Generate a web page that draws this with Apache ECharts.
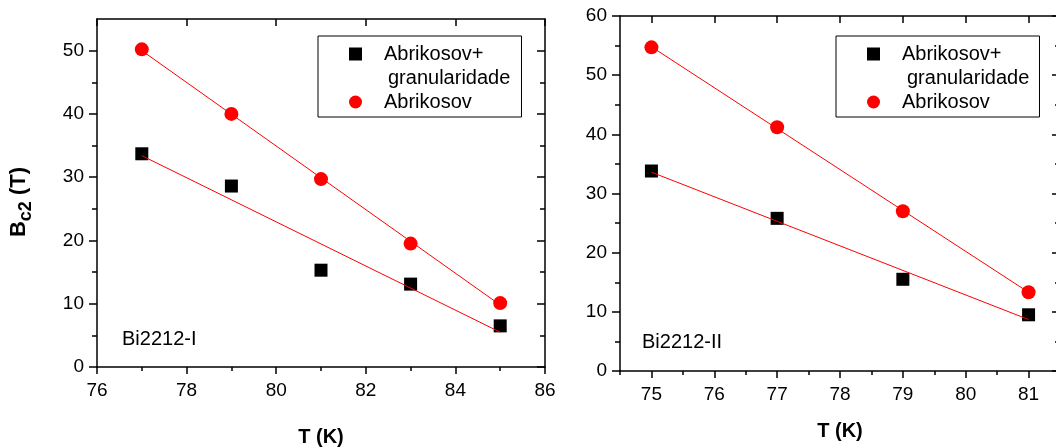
<!DOCTYPE html>
<html>
<head>
<meta charset="utf-8">
<script src="https://cdn.jsdelivr.net/npm/echarts@6/dist/echarts.min.js"></script>
<style>
  html, body { margin: 0; padding: 0; background: #ffffff; }
  #chart { width: 1056px; height: 448px; }
</style>
</head>
<body>
<div id="chart"></div>
<script>
// ---- Bi2212-I sample ----
const tempI = [77, 79, 81, 83, 85];
const bc2GranI = [33.7, 28.6, 15.3, 13.1, 6.5];   // Abrikosov + granularidade
const bc2AbrI = [50.2, 40.0, 29.7, 19.5, 10.1];   // Abrikosov
const fitGranI = [[77, 33.4], [85, 5.5]];          // linear fit end points
const fitAbrI = [[77, 50.0], [85, 9.8]];

// ---- Bi2212-II sample ----
const tempII = [75, 77, 79, 81];
const bc2GranII = [33.8, 25.8, 15.5, 9.5];
const bc2AbrII = [54.7, 41.2, 27.0, 13.3];
const fitGranII = [[75, 33.6], [81, 8.7]];
const fitAbrII = [[75, 54.8], [81, 13.3]];

// ---- axis ranges and ticks ----
const xRangeI = [76, 86];
const yRangeI = [0, 55];
const xTicksI = [76, 78, 80, 82, 84, 86];
const xMinorI = [77, 79, 81, 83, 85];
const yTicksI = [0, 10, 20, 30, 40, 50];
const yMinorI = [5, 15, 25, 35, 45];

const xRangeII = [74.5, 81.5];
const yRangeII = [0, 60];
const xTicksII = [75, 76, 77, 78, 79, 80, 81];
const xMinorII = [74.5, 75.5, 76.5, 77.5, 78.5, 79.5, 80.5, 81.5];
const yTicksII = [0, 10, 20, 30, 40, 50, 60];
const yMinorII = [5, 15, 25, 35, 45, 55];

const nameGran = 'Abrikosov+';
const nameGran2 = 'granularidade';
const nameAbr = 'Abrikosov';
const sampleI = 'Bi2212-I';
const sampleII = 'Bi2212-II';

const FONT = '"Liberation Sans", Arial, Helvetica, sans-serif';
const BLACK = '#000000';
const RED = '#ff0000';

function zip(xs, ys) { return xs.map((x, i) => [x, ys[i]]); }

// One side of the frame: a main axis (line, major ticks, labels) and an
// overlay axis carrying the minor ticks.
function side(dim, grid, pos, range, majors, minors, labeled, extra) {
  const inward = pos === 'top' || pos === 'right';
  const majorLen = dim === 'x' ? 7 : 8;
  const minorLen = dim === 'x' ? 4 : 5;
  const base = {
    type: 'value', gridIndex: grid, position: pos,
    min: range[0], max: range[1],
    splitLine: { show: false }, minorTick: { show: false }, minorSplitLine: { show: false }
  };
  const major = Object.assign({}, base, {
    axisLine: { show: true, onZero: false, lineStyle: { color: BLACK, width: 1.5 } },
    axisTick: { show: true, inside: inward, length: majorLen, customValues: majors,
      lineStyle: { color: BLACK, width: 1.5 } },
    axisLabel: labeled
      ? { show: true, customValues: majors, color: BLACK, fontSize: 19, fontFamily: FONT,
          margin: dim === 'x' ? 14 : 13 }
      : { show: false }
  }, extra || {});
  const minor = Object.assign({}, base, {
    axisLine: { show: false },
    axisTick: { show: true, inside: inward, length: minorLen, customValues: minors,
      lineStyle: { color: BLACK, width: 1.5 } },
    axisLabel: { show: false }
  });
  return [major, minor];
}

const xNameStyle = { color: BLACK, fontSize: 20, fontWeight: 'bold', fontFamily: FONT };

const xAxes = [].concat(
  side('x', 0, 'bottom', xRangeI, xTicksI, xMinorI, true,
    { name: 'T (K)', nameLocation: 'middle', nameGap: 60, nameTextStyle: xNameStyle }),
  side('x', 0, 'top', xRangeI, xTicksI, xMinorI, false),
  side('x', 1, 'bottom', xRangeII, xTicksII, xMinorII, true,
    { name: 'T (K)', nameLocation: 'middle', nameGap: 50, nameTextStyle: xNameStyle }),
  side('x', 1, 'top', xRangeII, xTicksII, xMinorII, false)
);

const yAxes = [].concat(
  side('y', 0, 'left', yRangeI, yTicksI, yMinorI, true, {
    name: '{b|B}{s|c2}{b| (T)}', nameLocation: 'middle', nameRotate: 90, nameGap: 62,
    nameTextStyle: {
      color: BLACK, fontFamily: FONT, padding: [0, 18, 0, 0],
      rich: {
        b: { fontSize: 22, fontWeight: 'bold', fontFamily: FONT, color: BLACK, lineHeight: 32 },
        s: { fontSize: 18, fontWeight: 'bold', fontFamily: FONT, color: BLACK, verticalAlign: 'bottom' }
      }
    }
  }),
  side('y', 0, 'right', yRangeI, yTicksI, yMinorI, false),
  side('y', 1, 'left', yRangeII, yTicksII, yMinorII, true),
  side('y', 1, 'right', yRangeII, yTicksII, yMinorII, false)
);

function scatter(name, xi, yi, data, symbol, size, color) {
  return {
    type: 'scatter', name: name, xAxisIndex: xi, yAxisIndex: yi, data: data,
    symbol: symbol, symbolSize: size, itemStyle: { color: color, opacity: 1 },
    z: 2, silent: true
  };
}
function fit(xi, yi, data) {
  return {
    type: 'line', xAxisIndex: xi, yAxisIndex: yi, data: data,
    showSymbol: false, symbol: 'none', lineStyle: { color: RED, width: 1 },
    z: 3, silent: true
  };
}

function legendAt(left) {
  return {
    orient: 'vertical', left: left, top: 36,
    data: [{ name: nameGran, icon: 'rect' }, { name: nameAbr, icon: 'circle' }],
    itemWidth: 13, itemHeight: 13, itemGap: 28,
    padding: [8, 38, 5, 31],
    borderColor: BLACK, borderWidth: 1, backgroundColor: '#ffffff',
    selectedMode: false,
    textStyle: { color: BLACK, fontSize: 20, fontFamily: FONT, lineHeight: 20, padding: [0, 0, 0, 17] }
  };
}

function label(left, y, text) {
  return {
    type: 'text', left: left, top: y - 11, z: 10,
    style: { text: text, fill: BLACK, fontSize: 20, fontFamily: FONT }
  };
}

const option = {
  animation: false,
  backgroundColor: '#ffffff',
  grid: [
    { left: 97, right: 511, top: 19, bottom: 81, containLabel: false, outerBoundsMode: 'none' },
    { left: 620, right: -4, top: 16, bottom: 77, containLabel: false, outerBoundsMode: 'none' }
  ],
  xAxis: xAxes,
  yAxis: yAxes,
  legend: [legendAt(318), legendAt(836)],
  graphic: [
    label(388, 79, nameGran2),
    label(907, 79, nameGran2),
    label(122, 340, sampleI),
    label(642, 343, sampleII)
  ],
  series: [
    scatter(nameGran, 0, 0, zip(tempI, bc2GranI), 'rect', 13, BLACK),
    scatter(nameAbr, 0, 0, zip(tempI, bc2AbrI), 'circle', 14, RED),
    fit(0, 0, fitGranI),
    fit(0, 0, fitAbrI),
    scatter(nameGran, 4, 4, zip(tempII, bc2GranII), 'rect', 13, BLACK),
    scatter(nameAbr, 4, 4, zip(tempII, bc2AbrII), 'circle', 14, RED),
    fit(4, 4, fitGranII),
    fit(4, 4, fitAbrII)
  ]
};

const chart = echarts.init(document.getElementById('chart'), null, { renderer: 'canvas' });
chart.setOption(option);
</script>
</body>
</html>
